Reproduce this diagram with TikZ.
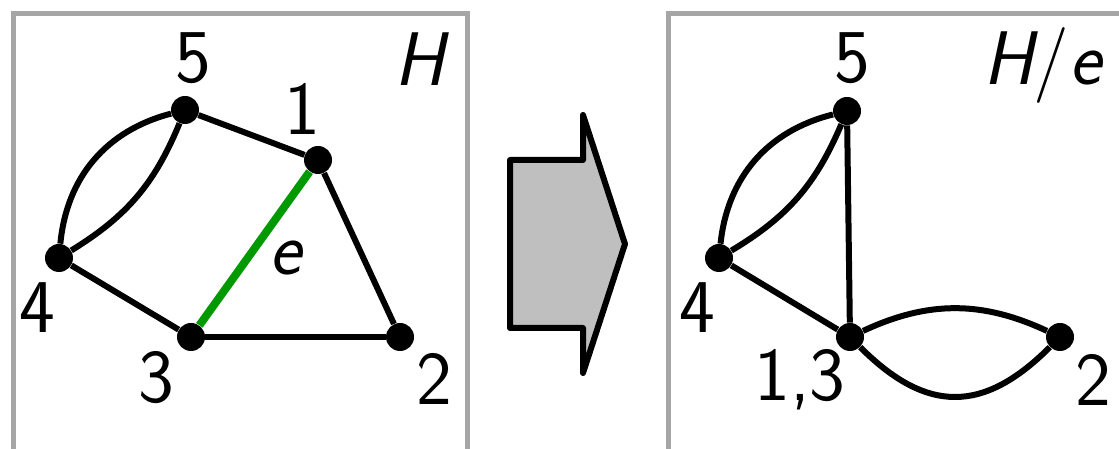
\documentclass[tikz,border=0pt]{standalone}
\usepackage{fontspec}
\begin{document}
\begin{tikzpicture}[x=0.5pt,y=0.5pt,
  vtx/.style={circle,fill=black,inner sep=0pt,minimum size=14pt},
  lbl/.style={font=\fontsize{38}{40}\selectfont\sffamily,inner sep=0pt},
  edge/.style={line width=3pt,black},
  contracted/.style={line width=4pt,green!60!black},
  frame/.style={line width=2.5pt,draw=gray!70},
  bigarrow/.style={line width=3pt,draw=black,fill=gray!50,line join=round}]
\useasboundingbox (0,0) rectangle (1119,449);
\begin{scope}
\clip (0,0) rectangle (1119,449);
\draw[frame] (13,-20) -- (13,435) -- (467,435) -- (467,-20);
\draw[frame] (668,-20) -- (668,435) -- (1140,435);
\end{scope}
% left graph H
\node[vtx] (a5) at (185,339) {};
\node[vtx] (a1) at (318,289) {};
\node[vtx] (a4) at (59,191) {};
\node[vtx] (a3) at (191,112) {};
\node[vtx] (a2) at (400,112) {};
\draw[edge] (a5) -- (a1);
\draw[edge] (a1) -- (a2);
\draw[edge] (a2) -- (a3);
\draw[edge] (a3) -- (a4);
\draw[contracted] (a3) -- (a1);
\draw[edge] (a4) to[bend left=35] (a5);
\draw[edge] (a4) to[bend right=18] (a5);
\node[lbl] (la5) at (193,391) {5};
\node[lbl] (la1) at (302,340) {1};
\node[lbl] (la4) at (37,141) {4};
\node[lbl] (la3) at (156,71) {3};
\node[lbl] (la2) at (434,70) {2};
\node[lbl] (le) at (285,191) {\itshape e};
\node[lbl,anchor=base] (lH) at (420,363) {\itshape H};
% arrow
\draw[bigarrow] (510,289) -- (583,289) -- (583,334) -- (625,205) -- (583,76) -- (583,121) -- (510,121) -- cycle;
% right graph H/e
\node[vtx] (b5) at (847,338) {};
\node[vtx] (b4) at (719,191) {};
\node[vtx] (b13) at (850,112) {};
\node[vtx] (b2) at (1060,112) {};
\draw[edge] (b4) to[bend left=35] (b5);
\draw[edge] (b4) to[bend right=18] (b5);
\draw[edge] (b5) -- (b13);
\draw[edge] (b4) -- (b13);
\draw[edge] (b13) to[bend left=25] (b2);
\draw[edge] (b13) to[out=-45,in=-135,looseness=1.27] (b2);
\node[lbl] (lb5) at (852,391) {5};
\node[lbl] (lb4) at (697,141) {4};
\node[lbl] (lb13) at (800,69) {1,3};
\node[lbl] (lb2) at (1093,69) {2};
\node[lbl,anchor=base] (lHe) at (1042,364) {{\itshape H}/{\itshape e}};
\end{tikzpicture}
\end{document}
